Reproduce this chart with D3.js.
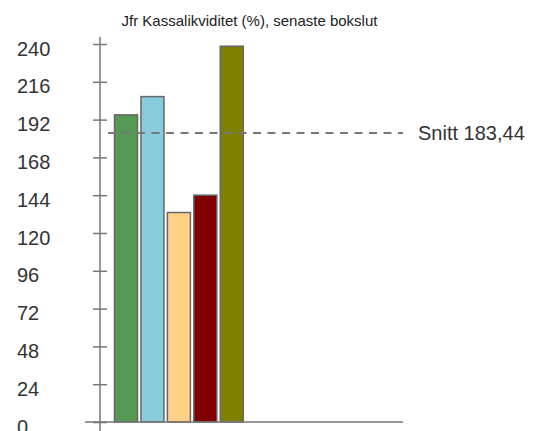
<!DOCTYPE html>
<html>
<head>
<meta charset="utf-8">
<script src="https://cdn.jsdelivr.net/npm/d3@7"></script>
<style>
  body { margin: 0; background: #fff; }
  svg { display: block; font-family: "Liberation Sans", Arial, sans-serif; }
</style>
</head>
<body>
<svg id="chart" width="536" height="431"></svg>
<script>
const title = "Jfr Kassalikviditet (%), senaste bokslut";
const categories = ["Bolag 1", "Bolag 2", "Bolag 3", "Bolag 4", "Bolag 5"];
const values = [195, 206.6, 133, 144, 238.6];
const colors = ["#559955", "#88cbdd", "#ffd088", "#800000", "#808000"];
const yTicks = [0, 24, 48, 72, 96, 120, 144, 168, 192, 216, 240];
const average = 183.44;
const averageLabel = "Snitt 183,44";

const svg = d3.select("#chart");
const axisColor = "#777";

const y = d3.scaleLinear().domain([0, 240]).range([422, 44]);
const x = d3.scaleBand().domain(categories)
  .range([112.8, 245]).paddingInner(0.13).paddingOuter(0.065);

// title
svg.append("text")
  .attr("x", 249.5).attr("y", 25.5)
  .attr("text-anchor", "middle")
  .style("font-size", "15px").attr("fill", "#222")
  .text(title);

// y axis, ticks crossing the line
const yAxis = svg.append("g")
  .attr("transform", "translate(100,0)")
  .call(d3.axisLeft(y).tickValues(yTicks).tickSize(7).tickPadding(0));
yAxis.select(".domain").remove();
yAxis.selectAll(".tick line")
  .attr("x1", -7).attr("x2", 7)
  .attr("stroke", axisColor).attr("stroke-width", 1.5);
yAxis.selectAll(".tick text")
  .attr("x", -83).attr("dy", "0.55em")
  .attr("text-anchor", "start")
  .attr("fill", "#333")
  .style("font-size", "20px")
  .style("font-family", "'Liberation Sans', Arial, sans-serif");

svg.append("line")
  .attr("x1", 100).attr("x2", 100).attr("y1", 37).attr("y2", 431)
  .attr("stroke", axisColor).attr("stroke-width", 1.5);

// bars
svg.append("g").selectAll("rect")
  .data(values)
  .join("rect")
  .attr("x", (d, i) => x(categories[i]))
  .attr("width", x.bandwidth())
  .attr("y", d => y(d))
  .attr("height", d => y(0) - y(d))
  .attr("fill", (d, i) => colors[i])
  .attr("stroke", "#666")
  .attr("stroke-width", 1.5);

// baseline
svg.append("line")
  .attr("x1", 85).attr("x2", 403).attr("y1", y(0)).attr("y2", y(0))
  .attr("stroke", axisColor).attr("stroke-width", 1.5);

// average line
svg.append("line")
  .attr("x1", 108).attr("x2", 403).attr("y1", y(average)).attr("y2", y(average))
  .attr("stroke", axisColor).attr("stroke-width", 2)
  .attr("stroke-dasharray", "8,6.5");

svg.append("text")
  .attr("x", 418).attr("y", y(average) + 7)
  .style("font-size", "20px").attr("fill", "#333")
  .text(averageLabel);
</script>
</body>
</html>
